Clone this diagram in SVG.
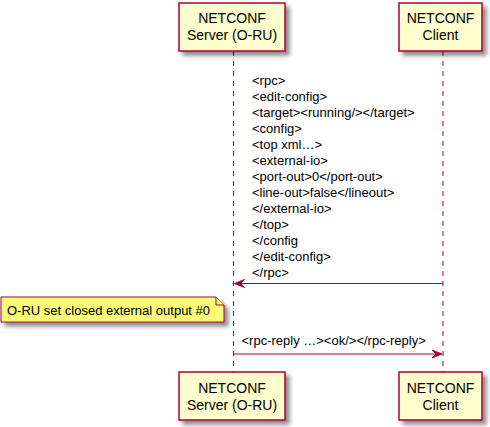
<svg xmlns="http://www.w3.org/2000/svg" width="490" height="427" viewBox="0 0 490 427">
<defs>
<filter id="sh" x="-10%" y="-10%" width="130%" height="140%">
<feGaussianBlur in="SourceAlpha" stdDeviation="2"/>
<feOffset dx="4" dy="4" result="b"/>
<feComponentTransfer><feFuncA type="linear" slope="0.45"/></feComponentTransfer>
<feMerge><feMergeNode/><feMergeNode in="SourceGraphic"/></feMerge>
</filter>
</defs>
<style>
.box{fill:#FEFECE;stroke:#A80036;stroke-width:1.5}
.life{stroke:#A80036;stroke-width:1;stroke-dasharray:5,5;fill:none}
.msg{stroke:#A80036;stroke-width:1;fill:none}
.head{fill:#A80036;stroke:#A80036;stroke-width:1}
.pt{font-family:"Liberation Sans",Arial,sans-serif;font-size:14px;fill:#000;text-anchor:middle}
.mt{font-family:"Liberation Sans",Arial,sans-serif;font-size:13px;fill:#000}
.note{fill:#FBFB77;stroke:#A80036;stroke-width:1}
</style>
<rect width="490" height="427" fill="#fff"/>
<g id="lifelines">
<line class="life" x1="233.5" y1="51" x2="233.5" y2="372"/>
<line class="life" x1="443" y1="51" x2="443" y2="372"/>
</g>
<g id="server-top">
<rect class="box" x="179" y="3" width="106" height="48" filter="url(#sh)"/>
<text class="pt" x="232" y="23.3">NETCONF</text>
<text class="pt" x="232" y="39.6">Server (O-RU)</text>
</g>
<g id="client-top">
<rect class="box" x="399" y="3" width="83" height="48" filter="url(#sh)"/>
<text class="pt" x="440.5" y="23.3">NETCONF</text>
<text class="pt" x="440.5" y="39.6">Client</text>
</g>
<g id="server-bottom">
<rect class="box" x="179" y="372" width="106" height="48" filter="url(#sh)"/>
<text class="pt" x="232" y="393.3">NETCONF</text>
<text class="pt" x="232" y="409.6">Server (O-RU)</text>
</g>
<g id="client-bottom">
<rect class="box" x="399" y="372" width="83" height="48" filter="url(#sh)"/>
<text class="pt" x="440.5" y="393.3">NETCONF</text>
<text class="pt" x="440.5" y="409.6">Client</text>
</g>
<g id="connectors">
<line class="msg" x1="235" y1="283.5" x2="443" y2="283.5"/>
<polygon class="head" points="234.5,283.5 244.5,279.5 240.5,283.5 244.5,287.5"/>
<line class="msg" x1="233.5" y1="354" x2="441" y2="354"/>
<polygon class="head" points="442,354 432,350 436,354 432,358"/>
</g>
<g id="msg1-label" class="mt">
<text x="252" y="84.5">&lt;rpc&gt;</text>
<text x="252" y="100.6">&lt;edit-config&gt;</text>
<text x="252" y="116.6">&lt;target&gt;&lt;running/&gt;&lt;/target&gt;</text>
<text x="252" y="132.7">&lt;config&gt;</text>
<text x="252" y="148.8">&lt;top xml…&gt;</text>
<text x="252" y="164.8">&lt;external-io&gt;</text>
<text x="252" y="180.9">&lt;port-out&gt;0&lt;/port-out&gt;</text>
<text x="252" y="197">&lt;line-out&gt;false&lt;/lineout&gt;</text>
<text x="252" y="213">&lt;/external-io&gt;</text>
<text x="252" y="229.1">&lt;/top&gt;</text>
<text x="252" y="245.2">&lt;/config</text>
<text x="252" y="261.2">&lt;/edit-config&gt;</text>
<text x="252" y="277.3">&lt;/rpc&gt;</text>
</g>
<g id="msg2-label">
<text class="mt" x="241.5" y="345">&lt;rpc-reply …&gt;&lt;ok/&gt;&lt;/rpc-reply&gt;</text>
</g>
<g id="note">
<path class="note" d="M1,297 L216,297 L224,305 L224,322 L1,322 Z" filter="url(#sh)"/>
<path class="note" d="M216,297 L216,305 L224,305" fill="none"/>
<text class="mt" x="7" y="315">O-RU set closed external output #0</text>
</g>
</svg>
